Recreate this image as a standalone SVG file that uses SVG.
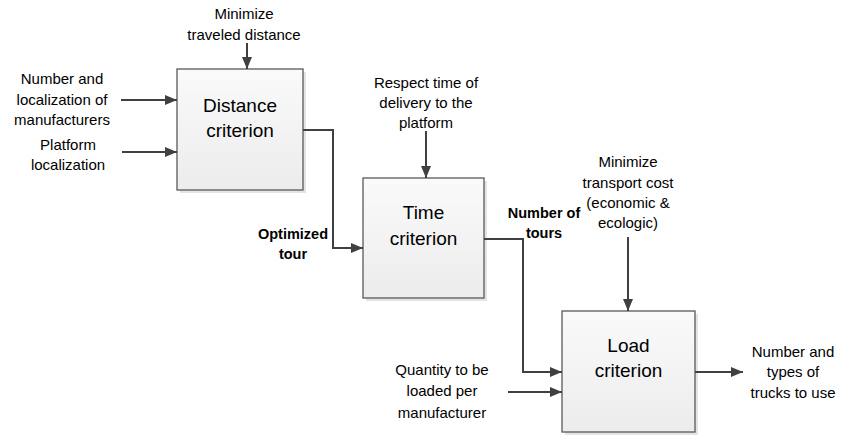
<svg xmlns="http://www.w3.org/2000/svg" width="841" height="435" viewBox="0 0 841 435">
<defs>
<linearGradient id="g" x1="0" y1="0" x2="0" y2="1">
<stop offset="0" stop-color="#fafafa"/>
<stop offset="1" stop-color="#ececec"/>
</linearGradient>
<marker id="ah" viewBox="0 0 12 10" refX="12" refY="5" markerWidth="12" markerHeight="10" markerUnits="userSpaceOnUse" orient="auto">
<path d="M0,0 L12,5 L0,10 Z" fill="#404040"/>
</marker>
</defs>
<style>
.box{fill:url(#g);stroke:#595959;stroke-width:1.3}
.sh{fill:#e4e4e4}
.bt{font-family:"Liberation Sans",Arial,sans-serif;font-size:19px;fill:#000;text-anchor:middle}
.lb{font-family:"Liberation Sans",Arial,sans-serif;font-size:15px;fill:#000;text-anchor:middle}
.bl{font-family:"Liberation Sans",Arial,sans-serif;font-size:14.5px;font-weight:bold;fill:#000;text-anchor:middle}
.c{fill:none;stroke:#404040;stroke-width:2;marker-end:url(#ah)}
</style>
<rect width="841" height="435" fill="#fff"/>
<g id="distance">
<rect class="sh" x="180" y="72" width="126" height="121"/>
<rect class="box" x="177" y="69" width="126" height="121"/>
<text class="bt" x="240" y="112">Distance</text>
<text class="bt" x="240" y="137">criterion</text>
</g>
<g id="time">
<rect class="sh" x="366" y="181" width="121" height="120"/>
<rect class="box" x="363" y="178" width="121" height="120"/>
<text class="bt" x="423.5" y="219">Time</text>
<text class="bt" x="423.5" y="245">criterion</text>
</g>
<g id="load">
<rect class="sh" x="565" y="314" width="133" height="121"/>
<rect class="box" x="562" y="311" width="133" height="121"/>
<text class="bt" x="628.5" y="352">Load</text>
<text class="bt" x="628.5" y="377">criterion</text>
</g>
<g id="labels">
<text class="lb" x="244" y="19">Minimize</text>
<text class="lb" x="244" y="40">traveled distance</text>
<text class="lb" x="62" y="84">Number and</text>
<text class="lb" x="62" y="105">localization of</text>
<text class="lb" x="62" y="125">manufacturers</text>
<text class="lb" x="68" y="150">Platform</text>
<text class="lb" x="68" y="170">localization</text>
<text class="lb" x="426" y="88">Respect time of</text>
<text class="lb" x="426" y="108">delivery to the</text>
<text class="lb" x="426" y="128">platform</text>
<text class="lb" x="628" y="167">Minimize</text>
<text class="lb" x="628" y="188">transport cost</text>
<text class="lb" x="628" y="208">(economic &amp;</text>
<text class="lb" x="628" y="228">ecologic)</text>
<text class="bl" x="293" y="239">Optimized</text>
<text class="bl" x="293" y="259">tour</text>
<text class="bl" x="544" y="218">Number of</text>
<text class="bl" x="544" y="238">tours</text>
<text class="lb" x="442" y="375">Quantity to be</text>
<text class="lb" x="442" y="396">loaded per</text>
<text class="lb" x="442" y="418">manufacturer</text>
<text class="lb" x="793" y="357">Number and</text>
<text class="lb" x="793" y="377">types of</text>
<text class="lb" x="793" y="398">trucks to use</text>
</g>
<g id="connectors">
<path class="c" d="M247,43 V69"/>
<path class="c" d="M121,100 H177"/>
<path class="c" d="M122,152 H177"/>
<path class="c" d="M303,130 H333 V248 H363"/>
<path class="c" d="M426,131 V178"/>
<path class="c" d="M484,239 H523 V372 H562"/>
<path class="c" d="M628,237 V311"/>
<path class="c" d="M508,392 H562"/>
<path class="c" d="M695,372 H743"/>
</g>
</svg>
